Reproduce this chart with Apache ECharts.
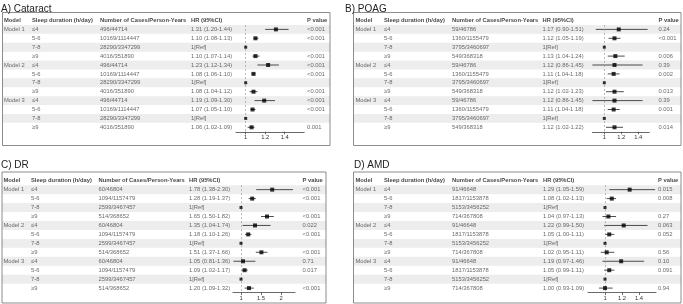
<!DOCTYPE html>
<html>
<head>
<meta charset="utf-8">
<script src="https://cdn.jsdelivr.net/npm/echarts@6/dist/echarts.min.js"></script>
<style>
  html, body { margin: 0; padding: 0; background: #fff; }
  #main { width: 683px; height: 304px; }
</style>
</head>
<body>
<div id="main"></div>
<script>
// table columns / rows
var sleepGroups = ['≤4', '5-6', '7-8', '≥9'];
var modelNames = ['Model 1', 'Model 2', 'Model 3'];
var headers = ['Model', 'Sleep duration (h/day)', 'Number of Cases/Person-Years', 'HR (95%CI)', 'P value'];
var axisTicksSmall = [1, 1.2, 1.4];
var axisTicksDR = [1, 1.5, 2];

// A) Cataract
var cataractCases = ['496/44714', '10169/1114447', '28290/3347299', '4016/351890',
                     '496/44714', '10169/1114447', '28290/3347299', '4016/351890',
                     '496/44714', '10169/1114447', '28290/3347299', '4016/351890'];
var cataractHR   = [1.31, 1.10, 1, 1.10, 1.23, 1.08, 1, 1.08, 1.19, 1.07, 1, 1.06];
var cataractLow  = [1.20, 1.08, null, 1.07, 1.12, 1.06, null, 1.04, 1.09, 1.05, null, 1.02];
var cataractHigh = [1.44, 1.13, null, 1.14, 1.34, 1.10, null, 1.12, 1.30, 1.10, null, 1.09];
var cataractP = ['<0.001', '<0.001', '', '<0.001', '<0.001', '<0.001', '', '<0.001', '<0.001', '<0.001', '', '0.001'];

// B) POAG
var poagCases = ['59/46786', '1360/1155479', '3795/3460697', '549/368318',
                 '59/46786', '1360/1155479', '3795/3460697', '549/368318',
                 '59/46786', '1360/1155479', '3795/3460697', '549/368318'];
var poagHR   = [1.17, 1.12, 1, 1.13, 1.12, 1.11, 1, 1.12, 1.12, 1.11, 1, 1.12];
var poagLow  = [0.90, 1.05, null, 1.04, 0.86, 1.04, null, 1.02, 0.86, 1.04, null, 1.02];
var poagHigh = [1.51, 1.19, null, 1.24, 1.45, 1.18, null, 1.23, 1.45, 1.18, null, 1.22];
var poagP = ['0.24', '<0.001', '', '0.006', '0.39', '0.002', '', '0.013', '0.39', '0.001', '', '0.014'];

// C) DR
var drCases = ['60/46804', '1094/1157479', '2599/3467457', '514/368652',
               '60/46804', '1094/1157479', '2599/3467457', '514/368652',
               '60/46804', '1094/1157479', '2599/3467457', '514/368652'];
var drHR   = [1.78, 1.28, 1, 1.65, 1.35, 1.18, 1, 1.51, 1.05, 1.09, 1, 1.20];
var drLow  = [1.38, 1.19, null, 1.50, 1.04, 1.10, null, 1.37, 0.81, 1.02, null, 1.09];
var drHigh = [2.30, 1.37, null, 1.82, 1.74, 1.26, null, 1.66, 1.36, 1.17, null, 1.32];
var drP = ['<0.001', '<0.001', '', '<0.001', '0.022', '<0.001', '', '<0.001', '0.71', '0.017', '', '<0.001'];

// D) AMD
var amdCases = ['91/46648', '1817/1153878', '5153/3456252', '714/367808',
                '91/46648', '1817/1153878', '5153/3456252', '714/367808',
                '91/46648', '1817/1153878', '5153/3456252', '714/367808'];
var amdHR   = [1.29, 1.08, 1, 1.04, 1.22, 1.05, 1, 1.02, 1.19, 1.05, 1, 1.00];
var amdLow  = [1.05, 1.02, null, 0.97, 0.99, 1.00, null, 0.95, 0.97, 0.99, null, 0.93];
var amdHigh = [1.59, 1.13, null, 1.13, 1.50, 1.11, null, 1.11, 1.46, 1.11, null, 1.09];
var amdP = ['0.015', '0.008', '', '0.27', '0.063', '0.052', '', '0.56', '0.10', '0.091', '', '0.94'];

var FONT = '"Liberation Sans", Arial, Helvetica, sans-serif';

// layout of each panel (pixels)
var panels = [
  { title: 'A) Cataract', titleX: 1, titleY: 4, boxL: 2.5, boxR: 330, boxT: 12.5, boxB: 145.5,
    headY: 20.5, pitch: 8.9, cols: [4, 32, 100, 191, 307],
    xMin: 0.9, xMax: 1.6, xOne: 245.7, unit: 97.5, ticks: axisTicksSmall,
    cases: cataractCases, hr: cataractHR, lo: cataractLow, hi: cataractHigh, p: cataractP },
  { title: 'B) POAG', titleX: 345, titleY: 4, boxL: 353.5, boxR: 681, boxT: 12.5, boxB: 145.5,
    headY: 20.5, pitch: 8.9, cols: [355.5, 384, 452, 542.5, 658.5],
    xMin: 0.86, xMax: 1.53, xOne: 604.3, unit: 85, ticks: axisTicksSmall,
    cases: poagCases, hr: poagHR, lo: poagLow, hi: poagHigh, p: poagP },
  { title: 'C) DR', titleX: 1, titleY: 160.5, boxL: 2, boxR: 326, boxT: 172, boxB: 303,
    headY: 180.7, pitch: 8.95, cols: [3.5, 31, 98.5, 189, 302.5],
    xMin: 0.8, xMax: 2.35, xOne: 241, unit: 40, ticks: axisTicksDR,
    cases: drCases, hr: drHR, lo: drLow, hi: drHigh, p: drP },
  { title: 'D) AMD', titleX: 354, titleY: 160.5, boxL: 353.5, boxR: 681, boxT: 172, boxB: 303,
    headY: 180.7, pitch: 8.95, cols: [355.5, 384, 452, 543, 658],
    xMin: 0.8, xMax: 1.6, xOne: 605, unit: 85, ticks: axisTicksSmall,
    cases: amdCases, hr: amdHR, lo: amdLow, hi: amdHigh, p: amdP }
];

var option = {
  animation: false,
  backgroundColor: '#fff',
  textStyle: { fontFamily: FONT },
  title: [],
  grid: [],
  xAxis: [],
  yAxis: [],
  series: []
};

function hrText(i, d) {
  if (d.lo[i] == null) return '1[Ref]';
  return d.hr[i].toFixed(2) + ' (' + d.lo[i].toFixed(2) + '-' + d.hi[i].toFixed(2) + ')';
}

function addPanel(L) {
  var g = option.grid.length;
  var w = L.boxR - L.boxL;
  var rowIdx = [];
  for (var r = 0; r < 13; r++) rowIdx.push(String(r));
  var fRows = rowIdx.slice(1);

  option.title.push({
    text: L.title, left: L.titleX, top: L.titleY, padding: 0,
    textStyle: { fontSize: 10, fontWeight: 'normal', color: '#222', fontFamily: FONT }
  });

  // frame
  option.grid.push({ left: L.boxL, top: L.boxT, width: w, height: L.boxB - L.boxT,
    show: true, borderColor: '#707070', borderWidth: 0.8, backgroundColor: 'rgba(0,0,0,0)',
    containLabel: false, outerBoundsMode: 'none', z: 5 });
  option.xAxis.push({ gridIndex: g, type: 'value', show: false });
  option.yAxis.push({ gridIndex: g, type: 'value', show: false });

  // table
  option.grid.push({ left: L.boxL, top: L.headY - L.pitch / 2, width: w, height: 13 * L.pitch,
    containLabel: false, outerBoundsMode: 'none' });
  option.xAxis.push({ gridIndex: g + 1, type: 'value', min: 0, max: w, show: false });
  option.yAxis.push({ gridIndex: g + 1, type: 'category', inverse: true, data: rowIdx,
    axisLine: { show: false }, axisTick: { show: false }, axisLabel: { show: false },
    splitLine: { show: false } });

  // zebra stripes: odd body rows shaded
  var stripe = rowIdx.map(function (v, r) { return r % 2 === 1 ? w : '-'; });
  option.series.push({
    type: 'bar', xAxisIndex: g + 1, yAxisIndex: g + 1, silent: true, z: 1,
    barWidth: '100%', itemStyle: { color: '#ededed' }, data: stripe
  });

  var headData = [], bodyData = [];
  for (var c = 0; c < 5; c++) headData.push([L.cols[c] - L.boxL, 0, headers[c]]);
  for (var i = 0; i < 12; i++) {
    var cells = [
      i % 4 === 0 ? modelNames[i / 4] : '',
      sleepGroups[i % 4],
      L.cases[i],
      hrText(i, L),
      L.p[i]
    ];
    for (var c2 = 0; c2 < 5; c2++) {
      if (cells[c2]) bodyData.push([L.cols[c2] - L.boxL, i + 1, cells[c2]]);
    }
  }
  var textSeries = function (data, bold, color) {
    return {
      type: 'scatter', xAxisIndex: g + 1, yAxisIndex: g + 1, symbolSize: 0, silent: true,
      data: data, z: 3,
      label: { show: true, position: [0, 0], align: 'left', verticalAlign: 'middle',
        fontSize: 5.8, fontWeight: bold ? 'bold' : 'normal', color: color, fontFamily: FONT,
        formatter: function (p) { return p.value[2]; } }
    };
  };
  option.series.push(textSeries(headData, true, '#111'));
  option.series.push(textSeries(bodyData, false, '#444'));

  // forest
  option.grid.push({ left: L.xOne - (1 - L.xMin) * L.unit, top: L.headY + L.pitch / 2,
    width: (L.xMax - L.xMin) * L.unit, height: 12 * L.pitch,
    containLabel: false, outerBoundsMode: 'none' });
  option.xAxis.push({ gridIndex: g + 2, type: 'value', min: L.xMin, max: L.xMax,
    axisLine: { show: true, lineStyle: { color: '#444', width: 0.8 } },
    axisTick: { show: true, length: 2.5, lineStyle: { color: '#444', width: 0.8 }, customValues: L.ticks },
    axisLabel: { show: true, customValues: L.ticks, fontSize: 5.8, color: '#333', margin: 3, fontFamily: FONT },
    splitLine: { show: false } });
  option.yAxis.push({ gridIndex: g + 2, type: 'category', inverse: true, data: fRows, show: false });

  var ciData = [], ptData = [];
  for (var k = 0; k < 12; k++) {
    var isRef = L.lo[k] == null;
    if (!isRef) ciData.push([L.lo[k], L.hi[k], k]);
    ptData.push({ value: [L.hr[k], k], symbolSize: isRef ? 3 : 4 });
  }
  option.series.push({
    type: 'custom', xAxisIndex: g + 2, yAxisIndex: g + 2, silent: true, z: 4,
    encode: { x: [0, 1], y: 2 },
    data: ciData,
    renderItem: function (params, api) {
      var s = api.coord([api.value(0), api.value(2)]);
      var e = api.coord([api.value(1), api.value(2)]);
      return { type: 'line', shape: { x1: s[0], y1: s[1], x2: e[0], y2: e[1] },
        style: { stroke: '#222', lineWidth: 0.8 } };
    }
  });
  option.series.push({
    type: 'scatter', xAxisIndex: g + 2, yAxisIndex: g + 2, silent: true, z: 6,
    symbol: 'rect', itemStyle: { color: '#000' },
    data: ptData,
    markLine: { silent: true, symbol: 'none', label: { show: false },
      lineStyle: { type: [2, 2], color: '#999', width: 0.7 },
      data: [{ xAxis: 1 }] }
  });
}

panels.forEach(addPanel);

var myChart = echarts.init(document.getElementById('main'), null, { renderer: 'canvas' });
myChart.setOption(option);
</script>
</body>
</html>
